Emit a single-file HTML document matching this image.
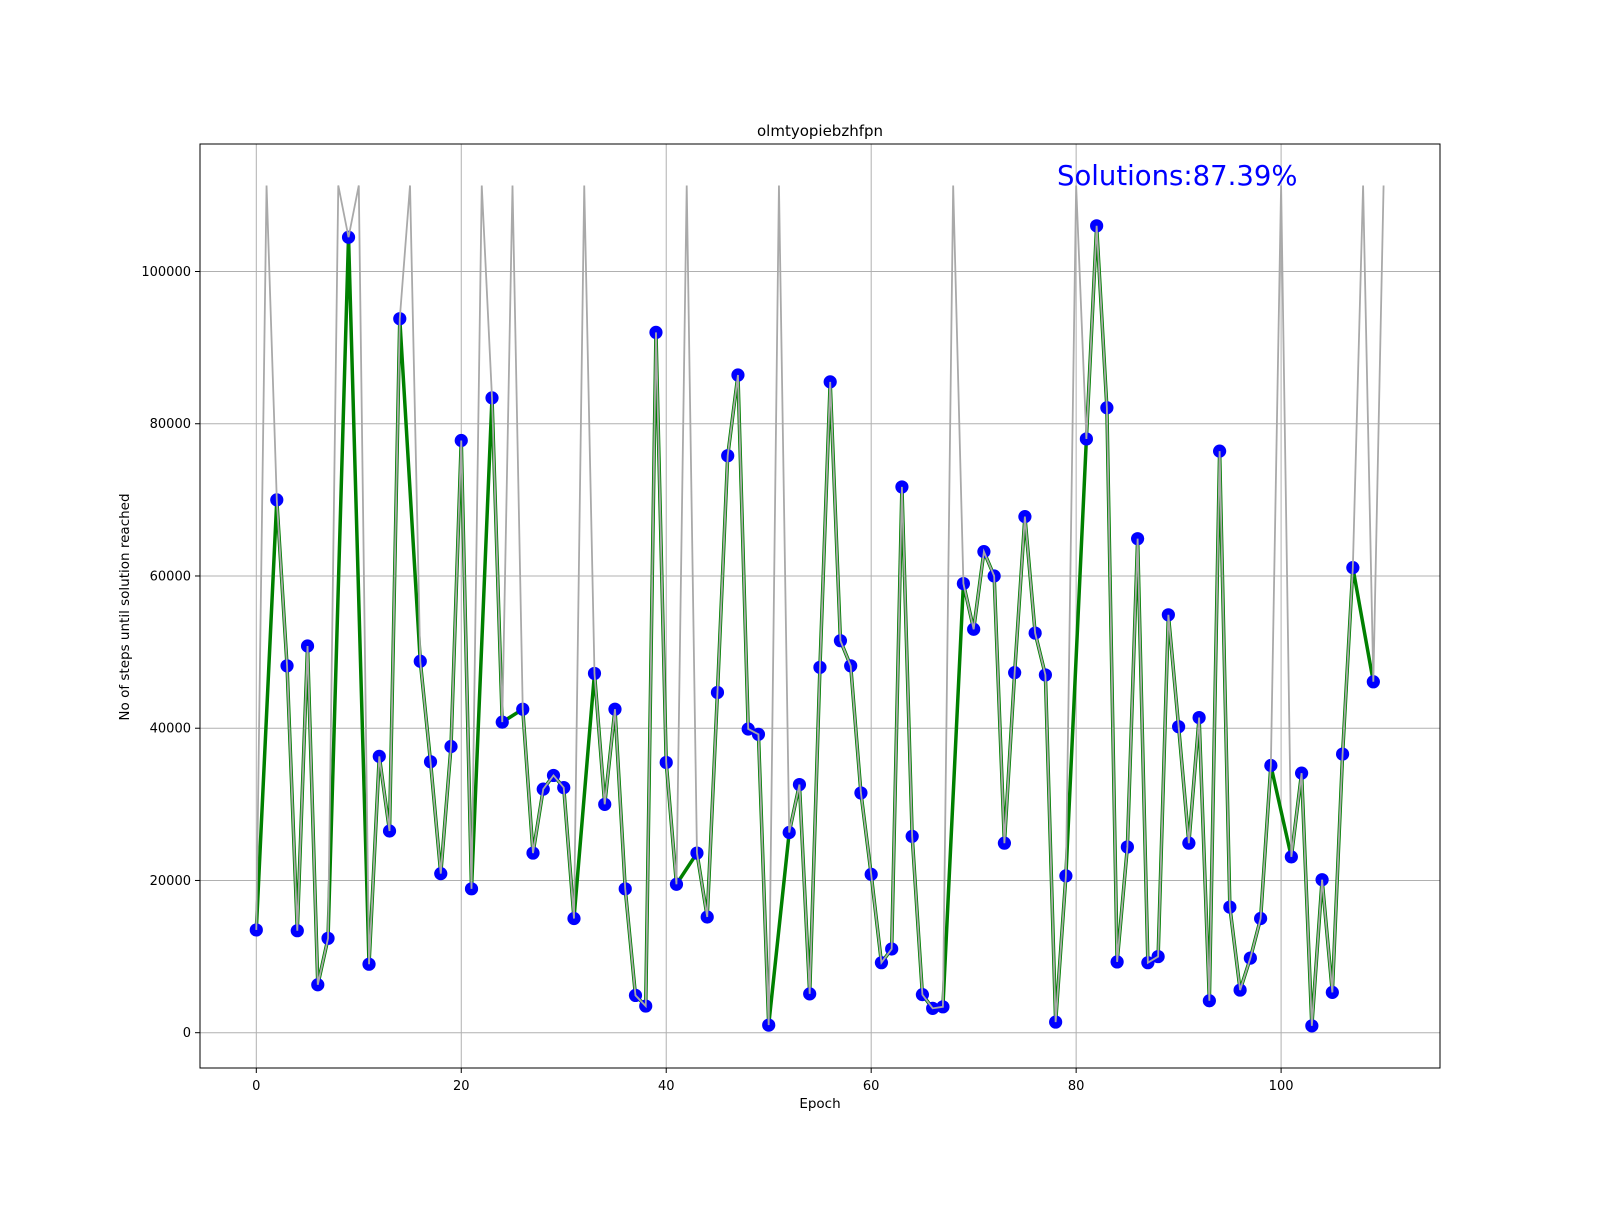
<!DOCTYPE html>
<html><head><meta charset="utf-8"><style>
body{margin:0;background:#fff}
svg text{font-family:"DejaVu Sans","Liberation Sans",sans-serif}
</style></head><body>
<svg id="c" width="1600" height="1200" xmlns="http://www.w3.org/2000/svg">
<rect width="1600" height="1200" fill="#fff"/>
<g id="grid"></g><g id="green"></g><g id="marks"></g><g id="gray"></g><g id="axes"></g>
<text x="820" y="136" font-size="15" text-anchor="middle">olmtyopiebzhfpn</text>
<text x="1057" y="185" font-size="27.5" fill="#0000ff">Solutions:87.39%</text>
<text x="820" y="1108" font-size="13.5" text-anchor="middle">Epoch</text>
<text x="129" y="607" font-size="13.5" text-anchor="middle" transform="rotate(-90 129 607)">No of steps until solution reached</text>
</svg>
<script>
const FAIL = 111300;
const values = [13500,null,70000,48200,13400,50800,6300,12400,null,104500,null,9000,36300,26500,93800,null,48800,35600,20900,37600,77800,18900,null,83400,40800,null,42500,23600,32000,33800,32200,15000,null,47200,30000,42500,18900,4900,3500,92000,35500,19500,null,23600,15200,44700,75800,86400,39900,39200,1000,null,26300,32600,5100,48000,85500,51500,48200,31500,20800,9200,11000,71700,25800,5000,3200,3400,null,59000,53000,63200,60000,24900,47300,67800,52500,47000,1400,20600,null,78000,106000,82100,9300,24400,64900,9200,10000,54900,40200,24900,41400,4200,76400,16500,5600,9800,15000,35100,null,23100,34100,900,20100,5300,36600,61100,null,46100,null];
const xTicks = [0,20,40,60,80,100];
const yTicks = [0,20000,40000,60000,80000,100000];
const L=200,R=1440,T=144,B=1068;
const xs = e => 256.3 + e*10.248;
const ys = v => 1032.7 - v*0.007612;
const NS='http://www.w3.org/2000/svg';
function mk(parent,tag,attrs){const el=document.createElementNS(NS,tag);for(const k in attrs)el.setAttribute(k,attrs[k]);document.getElementById(parent).appendChild(el);return el;}
xTicks.forEach(t=>{
  const g=mk('grid','line',{x1:xs(t),x2:xs(t),y1:T,y2:B,stroke:'#b0b0b0','stroke-width':1});
  
  
  mk('axes','line',{x1:xs(t),x2:xs(t),y1:B,y2:B+5,stroke:'#000'});
  const tx=mk('axes','text',{x:xs(t),y:B+22,'font-size':13,'text-anchor':'middle'});tx.textContent=t;
  
  
});
yTicks.forEach(t=>{
  const g=mk('grid','line',{x1:L,x2:R,y1:ys(t),y2:ys(t),stroke:'#b0b0b0','stroke-width':1});
  
  
  mk('axes','line',{x1:L-5,x2:L,y1:ys(t),y2:ys(t),stroke:'#000'});
  const tx=mk('axes','text',{x:L-9,y:ys(t)+4.5,'font-size':13,'text-anchor':'end'});tx.textContent=t;
  
  
});
const fr=mk('axes','rect',{x:L,y:T,width:R-L,height:B-T,fill:'none',stroke:'#000','stroke-width':1});


const okPts=[];values.forEach((v,i)=>{if(v!==null)okPts.push(xs(i)+','+ys(v));});
const gl=mk('green','polyline',{points:okPts.join(' '),fill:'none',stroke:'#008000','stroke-width':3.5,'stroke-linejoin':'round'});


values.forEach((v,i)=>{if(v!==null){const c=mk('marks','circle',{cx:xs(i),cy:ys(v),r:6.6,fill:'#0000ff'});
  
  }});
const allPts=values.map((v,i)=>xs(i)+','+ys(v===null?FAIL:v));
const gr=mk('gray','polyline',{points:allPts.join(' '),fill:'none',stroke:'#a9a9a9','stroke-width':1.8});


</script>
</body></html>
